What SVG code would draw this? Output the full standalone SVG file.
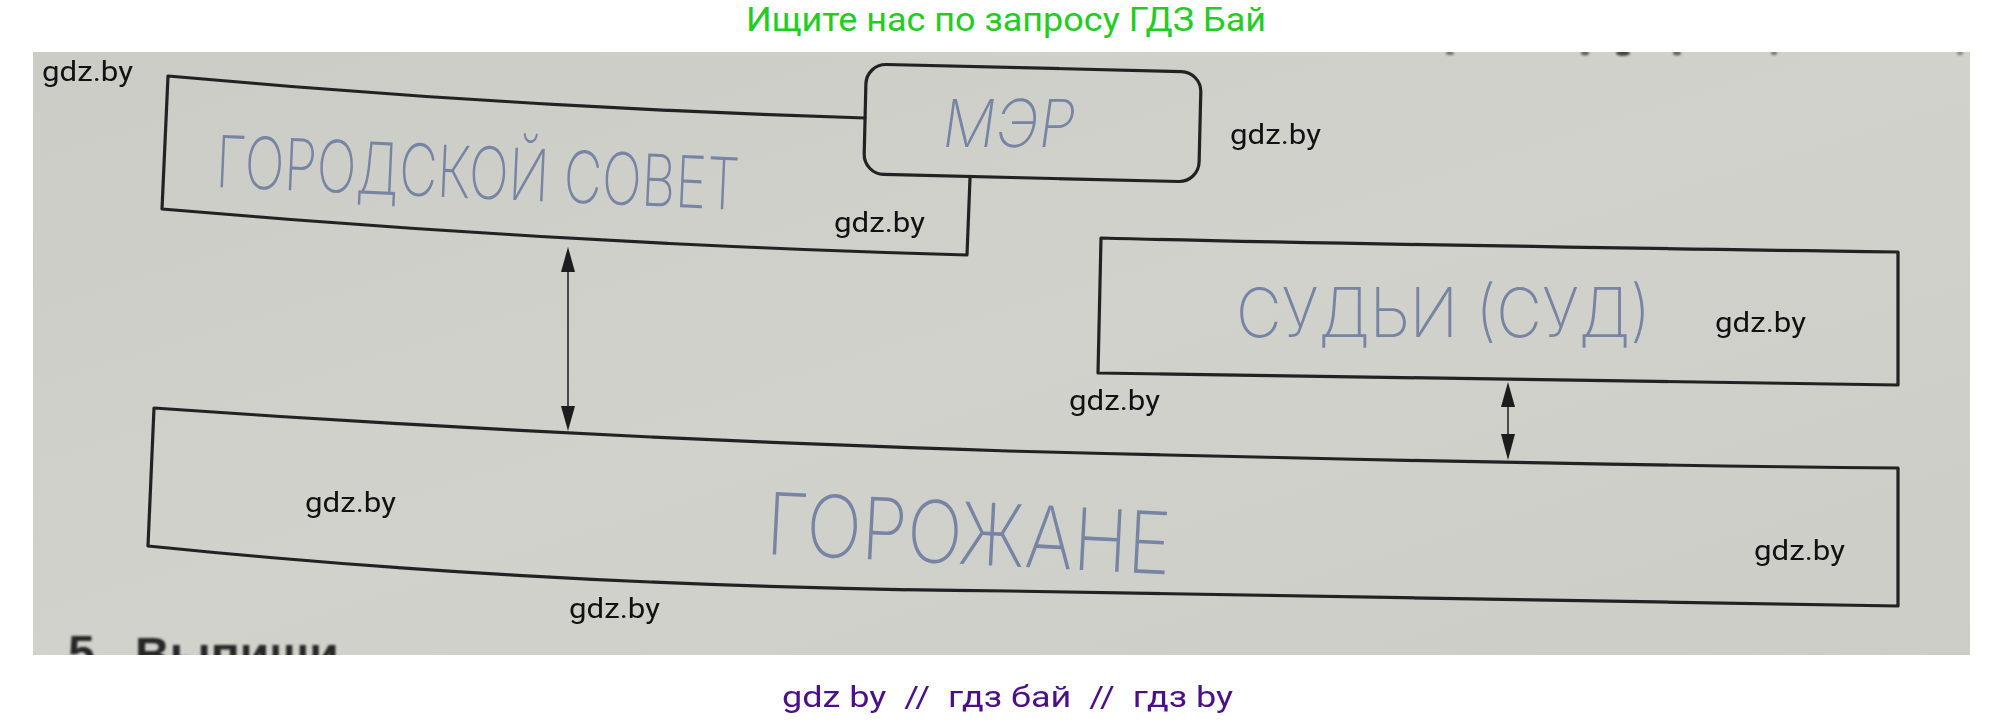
<svg xmlns="http://www.w3.org/2000/svg" width="2016" height="722" viewBox="0 0 2016 722">
<defs>
<linearGradient id="paper" x1="0" y1="0" x2="1" y2="1">
<stop offset="0" stop-color="#cbccc6"/>
<stop offset="0.5" stop-color="#d1d2cc"/>
<stop offset="1" stop-color="#cccdc7"/>
</linearGradient>
<clipPath id="photoClip"><rect x="33" y="52" width="1937" height="603"/></clipPath>
<filter id="soft" x="-5%" y="-5%" width="110%" height="110%"><feGaussianBlur stdDeviation="0.7"/></filter>
<filter id="softer" x="-20%" y="-20%" width="140%" height="140%"><feGaussianBlur stdDeviation="1.2"/></filter>
</defs>
<style>
.box{fill:none;stroke:#222222;stroke-width:3.2;stroke-linecap:round;stroke-linejoin:round}
.shaft{fill:none;stroke:#4a4a4a;stroke-width:2}
.head{fill:#1e1e1e}
.hand{font-family:Inter,"Liberation Sans",sans-serif;font-weight:200;fill:#7884a3}
.wm{font-family:Roboto,"Liberation Sans",sans-serif;font-size:28px;fill:#111111}
.title{font-family:Roboto,"Liberation Sans",sans-serif;font-size:34px;fill:#22cc22}
.foot{font-family:Roboto,"Liberation Sans",sans-serif;font-size:29px;fill:#4b0f88;white-space:pre}
.print{font-family:"Liberation Sans",sans-serif;font-weight:bold;font-size:48px;fill:#262626}
</style>
<rect x="0" y="0" width="2016" height="722" fill="#ffffff"/>
<text class="title" x="746" y="31" textLength="520" lengthAdjust="spacingAndGlyphs">Ищите нас по запросу ГДЗ Бай</text>
<rect x="33" y="52" width="1937" height="603" fill="url(#paper)"/>
<g clip-path="url(#photoClip)" filter="url(#softer)">
<ellipse cx="1450" cy="53" rx="4" ry="2" fill="#333" opacity="0.6"/>
<ellipse cx="1585" cy="53" rx="4" ry="2.5" fill="#333" opacity="0.7"/>
<ellipse cx="1623" cy="53" rx="7" ry="3" fill="#222" opacity="0.8"/>
<ellipse cx="1677" cy="53" rx="4" ry="2.5" fill="#333" opacity="0.7"/>
<ellipse cx="1774" cy="53" rx="3" ry="2" fill="#333" opacity="0.6"/>
<ellipse cx="1960" cy="53" rx="3" ry="2" fill="#333" opacity="0.5"/>
<text class="print" x="68" y="669">5</text>
<text class="print" x="135" y="671">Выпиши</text>
</g>
<g id="connectors" filter="url(#soft)">
<line class="shaft" x1="568" y1="268" x2="568" y2="410"/>
<polygon class="head" points="568,247 575,272 561,272"/>
<polygon class="head" points="568,431 575,406 561,406"/>
<line class="shaft" x1="1508" y1="402" x2="1508" y2="440"/>
<polygon class="head" points="1508,382 1515,407 1501,407"/>
<polygon class="head" points="1508,460 1515,434 1501,434"/>
</g>
<g id="node-sovet" filter="url(#soft)">
<path class="box" d="M865,118 Q516,107.5 168,76 L162,209 Q568,244 967,255 L970,178"/>
<text class="hand" x="215" y="187" font-size="72" textLength="524" lengthAdjust="spacingAndGlyphs" transform="rotate(2.5 215 187)">ГОРОДСКОЙ СОВЕТ</text>
</g>
<g id="node-mer" filter="url(#soft)">
<rect class="box" x="865" y="68" width="335" height="110" rx="20" transform="rotate(1.37 1032.5 123)"/>
<text class="hand" x="0" y="0" font-size="66" textLength="133" lengthAdjust="spacingAndGlyphs" fill="#6c7aa0" transform="translate(940 147) skewX(-8)">МЭР</text>
</g>
<g id="node-sudy" filter="url(#soft)">
<path class="box" d="M1101,238 Q1330,244 1898,252 L1898,385 Q1400,378 1098,373 Z"/>
<text class="hand" x="1236" y="337" font-size="68" textLength="415" lengthAdjust="spacingAndGlyphs">СУДЬИ (СУД)</text>
</g>
<g id="node-gorozhane" filter="url(#soft)">
<path class="box" d="M154,408 Q566,437 1008,451 Q1500,464 1898,468 L1898,606 Q1450,600 1008,591 Q554,587.5 148,546 Z"/>
<text class="hand" x="765" y="554" font-size="86" textLength="405" lengthAdjust="spacingAndGlyphs" fill="#8089a6" transform="rotate(2.9 765 554)">ГОРОЖАНЕ</text>
</g>
<g id="watermarks">
<text class="wm" x="42" y="81" textLength="91" lengthAdjust="spacingAndGlyphs">gdz.by</text>
<text class="wm" x="1230" y="144" textLength="91" lengthAdjust="spacingAndGlyphs">gdz.by</text>
<text class="wm" x="834" y="232" textLength="91" lengthAdjust="spacingAndGlyphs">gdz.by</text>
<text class="wm" x="1715" y="332" textLength="91" lengthAdjust="spacingAndGlyphs">gdz.by</text>
<text class="wm" x="1069" y="410" textLength="91" lengthAdjust="spacingAndGlyphs">gdz.by</text>
<text class="wm" x="305" y="512" textLength="91" lengthAdjust="spacingAndGlyphs">gdz.by</text>
<text class="wm" x="569" y="618" textLength="91" lengthAdjust="spacingAndGlyphs">gdz.by</text>
<text class="wm" x="1754" y="560" textLength="91" lengthAdjust="spacingAndGlyphs">gdz.by</text>
</g>
<text class="foot" x="782" y="707" textLength="451" lengthAdjust="spacingAndGlyphs" xml:space="preserve">gdz by  //  гдз бай  //  гдз by</text>
</svg>
